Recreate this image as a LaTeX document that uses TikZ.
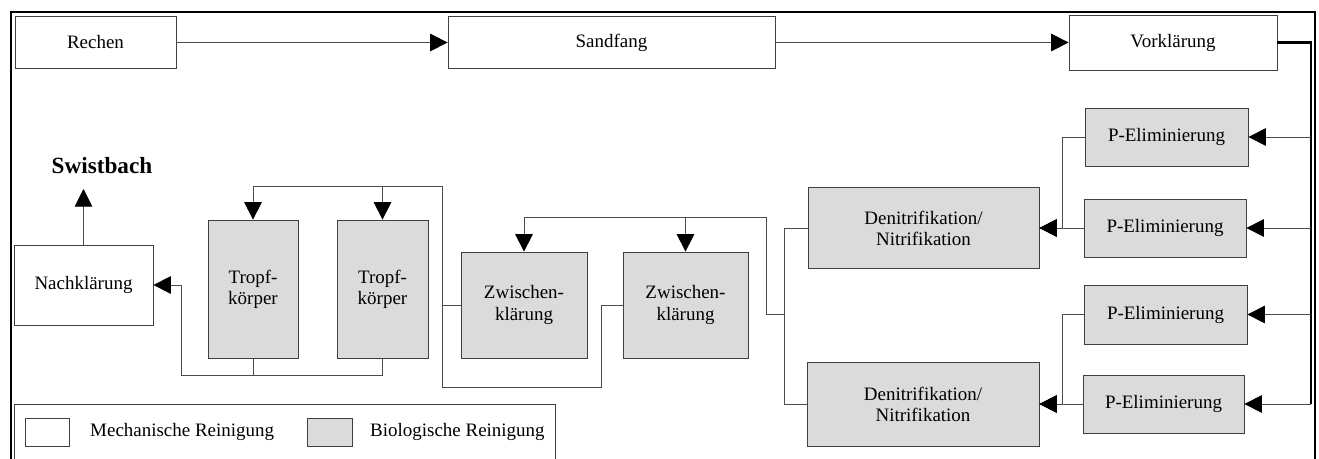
\documentclass[tikz,border=0pt]{standalone}
\usepackage{fontspec}
\setmainfont{Liberation Serif}
\usetikzlibrary{arrows.meta}

\begin{document}
\begin{tikzpicture}[x=0.02cm,y=-0.02cm,
  mech/.style={draw=black!75,fill=white,inner sep=0pt,align=center,font=\fontsize{10.8}{12}\selectfont},
  bio/.style={mech,fill=black!14},
  wire/.style={draw=black!70,line width=0.5pt},
  flow/.style={wire,-{Triangle[length=10pt,width=10pt,black]}}]
\useasboundingbox (0,0) rectangle (1319,459);
\clip (0,0) rectangle (1319,459);
\draw [black,line width=1.2pt] (11,12) rectangle (1315,480);

\node [mech,minimum width=161*0.02cm,minimum height=52*0.02cm] (rechen) at (95.5,42.5) {Rechen};
\node [mech,minimum width=327*0.02cm,minimum height=52*0.02cm] (sandfang) at (611.5,42.5) {Sandfang};
\node [mech,minimum width=208*0.02cm,minimum height=55*0.02cm] (vorkl) at (1173,42.5) {Vorklärung};

\node [bio,minimum width=163*0.02cm,minimum height=58*0.02cm] (pelim1) at (1166.5,137) {P-Eliminierung};
\node [bio,minimum width=162*0.02cm,minimum height=58*0.02cm] (pelim2) at (1165,228) {P-Eliminierung};
\node [bio,minimum width=163*0.02cm,minimum height=59*0.02cm] (pelim3) at (1165.5,314.5) {P-Eliminierung};
\node [bio,minimum width=161*0.02cm,minimum height=58*0.02cm] (pelim4) at (1163.5,404) {P-Eliminierung};

\node [bio,minimum width=231*0.02cm,minimum height=81*0.02cm] (deni1) at (923.5,228) {Denitrifikation/\\Nitrifikation};
\node [bio,minimum width=232*0.02cm,minimum height=84*0.02cm] (deni2) at (923,404) {Denitrifikation/\\Nitrifikation};

\node [bio,minimum width=126*0.02cm,minimum height=106*0.02cm] (zwkl1) at (524,305) {Zwischen-\\klärung};
\node [bio,minimum width=125*0.02cm,minimum height=106*0.02cm] (zwkl2) at (685.5,305) {Zwischen-\\klärung};

\node [bio,minimum width=90*0.02cm,minimum height=138*0.02cm] (tropf1) at (253,289) {Tropf-\\körper};
\node [bio,minimum width=91*0.02cm,minimum height=138*0.02cm] (tropf2) at (382.5,289) {Tropf-\\körper};

\node [mech,minimum width=139*0.02cm,minimum height=80*0.02cm] (nachkl) at (83.5,285) {Nachklärung};
\node [font=\fontsize{13.2}{15}\selectfont\bfseries] (swist) at (102,166) {Swistbach};

\coordinate (bustop) at (1311,42.5);
\coordinate (busbot) at (1311,404);
\coordinate (pjoin1) at (1062,137);
\coordinate (pjoin3) at (1062,314.5);
\coordinate (dmerge) at (784,228);
\coordinate (dout) at (766,314);
\coordinate (zwbus) at (766,217);
\coordinate (zwret) at (601,387);
\coordinate (tkbus) at (442,186);
\coordinate (tkout) at (181,375);
\coordinate (swarrow) at (83.5,189);

\draw [flow] (rechen) -- (sandfang);
\draw [flow] (sandfang) -- (vorkl);
\draw [black,line width=1.2pt] (vorkl.east) -- (bustop) -- (busbot);
\foreach \p in {pelim1,pelim2,pelim3} \draw [flow] (bustop |- \p.east) -- (\p.east);
\draw [flow] (busbot) -- (pelim4.east);

\draw [flow] (pelim1.west) -- (pjoin1) |- (deni1.east);
\draw [flow] (pelim2.west) -- (deni1.east);
\draw [flow] (pelim3.west) -- (pjoin3) |- (deni2.east);
\draw [flow] (pelim4.west) -- (deni2.east);

\draw [wire] (deni1.west) -- (dmerge) |- (deni2.west);
\draw [wire] (dmerge |- dout) -- (dout) -- (zwbus);
\draw [flow] (zwbus) -| (zwkl1.north);
\draw [flow] (zwbus -| zwkl2.north) -- (zwkl2.north);

\draw [wire] (zwkl2.west) -| (zwret) -| (tkbus);
\draw [wire] (zwkl1.west) -- (tkbus |- zwkl1.west);
\draw [flow] (tkbus) -| (tropf1.north);
\draw [flow] (tkbus -| tropf2.north) -- (tropf2.north);

\draw [wire] (tropf1.south) -- (tropf1.south |- tkout);
\draw [flow] (tropf2.south) |- (tkout) |- (nachkl.east);
\draw [flow] (nachkl.north) -- (swarrow);

\draw [draw=black!75] (14,404) rectangle (555,480);
\node [mech,minimum width=44*0.02cm,minimum height=28*0.02cm] (legmech) at (47,432) {};
\node [bio,minimum width=45*0.02cm,minimum height=28*0.02cm] (legbio) at (329.5,432) {};
\node [anchor=west,font=\fontsize{10.8}{12}\selectfont] (txtmech) at (84,432) {Mechanische Reinigung};
\node [anchor=west,font=\fontsize{10.8}{12}\selectfont] (txtbio) at (364,432) {Biologische Reinigung};
\end{tikzpicture}
\end{document}
